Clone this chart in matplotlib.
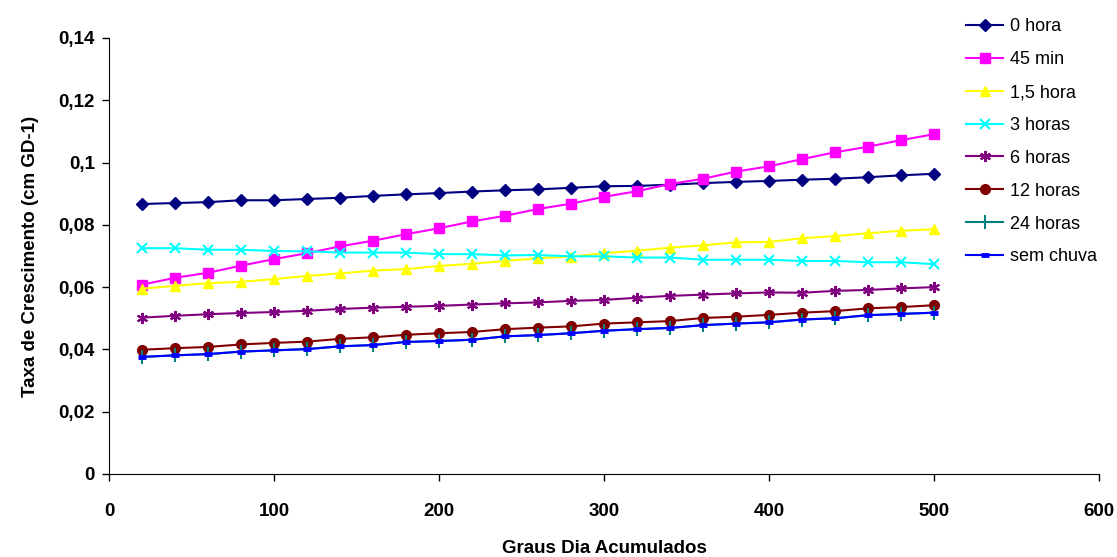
import matplotlib
matplotlib.use('Agg')
import matplotlib.pyplot as plt

# eixo x: graus dia acumulados
graus_dia = [20, 40, 60, 80, 100, 120, 140, 160, 180, 200, 220, 240, 260,
             280, 300, 320, 340, 360, 380, 400, 420, 440, 460, 480, 500]

# taxa de crescimento por tratamento
hora_0 = [0.0867, 0.0870, 0.0873, 0.0879, 0.0879, 0.0883, 0.0887, 0.0893, 0.0898,
          0.0902, 0.0907, 0.0911, 0.0914, 0.0919, 0.0924, 0.0925, 0.0929, 0.0934,
          0.0938, 0.0941, 0.0945, 0.0948, 0.0953, 0.0959, 0.0964]
min_45 = [0.0608, 0.0630, 0.0646, 0.0669, 0.0690, 0.0709, 0.0731, 0.0749, 0.0770,
          0.0789, 0.0811, 0.0829, 0.0851, 0.0868, 0.0890, 0.0908, 0.0931, 0.0948,
          0.0971, 0.0988, 0.1011, 0.1033, 0.1051, 0.1072, 0.1091]
hora_1_5 = [0.0595, 0.0604, 0.0613, 0.0617, 0.0626, 0.0636, 0.0644, 0.0653, 0.0658,
            0.0668, 0.0675, 0.0684, 0.0693, 0.0698, 0.0709, 0.0717, 0.0727, 0.0734,
            0.0744, 0.0745, 0.0757, 0.0764, 0.0773, 0.0781, 0.0786]
horas_3 = [0.0725, 0.0725, 0.0720, 0.0720, 0.0716, 0.0715, 0.0711, 0.0711, 0.0711,
           0.0706, 0.0706, 0.0702, 0.0703, 0.0699, 0.0699, 0.0695, 0.0695, 0.0688,
           0.0688, 0.0688, 0.0684, 0.0684, 0.0680, 0.0680, 0.0674]
horas_6 = [0.0502, 0.0508, 0.0513, 0.0517, 0.0520, 0.0524, 0.0530, 0.0534, 0.0537,
           0.0540, 0.0544, 0.0548, 0.0551, 0.0556, 0.0559, 0.0566, 0.0572, 0.0576,
           0.0580, 0.0583, 0.0582, 0.0588, 0.0591, 0.0596, 0.0600]
horas_12 = [0.0399, 0.0404, 0.0408, 0.0416, 0.0421, 0.0425, 0.0434, 0.0439, 0.0447,
            0.0452, 0.0456, 0.0465, 0.0470, 0.0474, 0.0483, 0.0487, 0.0491, 0.0501,
            0.0505, 0.0511, 0.0518, 0.0523, 0.0532, 0.0536, 0.0542]
horas_24 = [0.0376, 0.0381, 0.0385, 0.0393, 0.0397, 0.0401, 0.0410, 0.0414, 0.0424,
            0.0427, 0.0431, 0.0442, 0.0446, 0.0452, 0.0460, 0.0465, 0.0469, 0.0478,
            0.0483, 0.0487, 0.0496, 0.0500, 0.0510, 0.0514, 0.0518]
sem_chuva = [0.0376, 0.0381, 0.0385, 0.0393, 0.0397, 0.0401, 0.0410, 0.0414, 0.0424,
             0.0427, 0.0431, 0.0442, 0.0446, 0.0452, 0.0460, 0.0465, 0.0469, 0.0478,
             0.0483, 0.0487, 0.0496, 0.0500, 0.0510, 0.0514, 0.0518]

legendas = ['0 hora', '45 min', '1,5 hora', '3 horas', '6 horas',
            '12 horas', '24 horas', 'sem chuva']

y_ticks = [0, 0.02, 0.04, 0.06, 0.08, 0.1, 0.12, 0.14]
y_tick_labels = ['0', '0,02', '0,04', '0,06', '0,08', '0,1', '0,12', '0,14']
x_ticks = [0, 100, 200, 300, 400, 500, 600]

plt.rcParams['font.family'] = ['Liberation Sans', 'DejaVu Sans']

fig = plt.figure(figsize=(11.17, 5.57), dpi=100)
ax = fig.add_axes([109 / 1117, 1 - 474 / 557, 990 / 1117, 436 / 557])

series = [hora_0, min_45, hora_1_5, horas_3, horas_6, horas_12, horas_24, sem_chuva]
estilos = [
    dict(color='#000080', marker='D', markersize=6),
    dict(color='#FF00FF', marker='s', markersize=6.5),
    dict(color='#FFFF00', marker='^', markersize=7.5),
    dict(color='#00FFFF', marker='x', markersize=7, markeredgewidth=1.5),
    dict(color='#800080', marker=(6, 2, 0), markersize=8, markeredgewidth=1.5),
    dict(color='#800000', marker='o', markersize=7),
    dict(color='#008080', marker='|', markersize=10, markeredgewidth=1.5),
    dict(color='#0000FF', marker='_', markersize=6, markeredgewidth=3.5),
]

for valores, nome, est in zip(series, legendas, estilos):
    ax.plot(graus_dia, valores, linewidth=1.5, label=nome, **est)

ax.set_xlim(0, 600)
ax.set_ylim(0, 0.14)
ax.set_xticks(x_ticks)
ax.set_xticklabels([str(v) for v in x_ticks], fontsize=13.5, fontweight='bold')
ax.set_yticks(y_ticks)
ax.set_yticklabels(y_tick_labels, fontsize=13.5, fontweight='bold')
ax.tick_params(direction='out', length=5, width=1)
ax.tick_params(axis='x', pad=16)
ax.tick_params(axis='y', pad=5)
ax.spines['top'].set_visible(False)
ax.spines['right'].set_visible(False)

ax.set_xlabel('Graus Dia Acumulados', fontsize=13.5, fontweight='bold', labelpad=14)
ax.set_ylabel('Taxa de Crescimento (cm GD-1)', fontsize=13.5, fontweight='bold', labelpad=14)

fig.legend(loc='upper left', bbox_to_anchor=(950 / 1117, 1 - 2 / 557),
           frameon=False, fontsize=13, handlelength=2.05, handletextpad=0.4,
           labelspacing=0.88)

fig.savefig('out.png', dpi=100)
